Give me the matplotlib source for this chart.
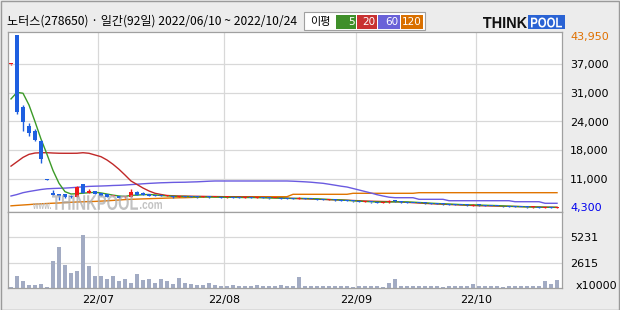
import matplotlib
matplotlib.use('Agg')
import matplotlib.pyplot as plt
from matplotlib.patches import Rectangle, PathPatch
from matplotlib.textpath import TextPath
from matplotlib.font_manager import FontProperties
import matplotlib.transforms as mtrans

plt.rcParams['font.family'] = ['Noto Sans CJK KR', 'DejaVu Sans']

# 일봉 데이터 (92일, 2022/06/10 ~ 2022/10/24)
opens = [37200, 43950, 27500, 23200, 21950, 19650, 10800, 7650, 7500, 7450,
         7120, 6900, 9730, 7800, 8130, 7670, 7440, 7100, 7050, 6850,
         6890, 8040, 7670, 7500, 7300, 7200, 7000, 7100, 6850, 7000,
         6900, 6850, 6800, 6900, 6800, 6850, 6750, 6800, 6750, 6700,
         6700, 6650, 6700, 6600, 6550, 6600, 6500, 6450, 6300, 6650,
         6400, 6300, 6250, 6200, 6200, 6100, 6000, 5900, 5800, 5700,
         5700, 5600, 5550, 5600, 5950, 5800, 5600, 5500, 5450, 5400,
         5350, 5300, 5200, 5150, 5100, 5050, 4950, 4850, 5050, 4900,
         4800, 4750, 4700, 4650, 4600, 4550, 4500, 4450, 4500, 4350,
         4450, 4400]
highs = [37400, 43950, 27900, 23850, 22500, 19900, 10850, 8450, 7600, 7500,
         7200, 9250, 9850, 8600, 8200, 7700, 7500, 7300, 7100, 6950,
         8650, 8130, 7900, 7550, 7380, 7260, 7230, 7150, 7020, 7050,
         6950, 6900, 6980, 6950, 6920, 6900, 6870, 6850, 6800, 6820,
         6750, 6780, 6750, 6650, 6680, 6650, 6550, 6500, 6900, 6700,
         6450, 6350, 6300, 6330, 6250, 6150, 6050, 5950, 5850, 5830,
         5750, 5650, 5720, 6100, 6200, 5850, 5650, 5550, 5500, 5450,
         5400, 5350, 5250, 5200, 5150, 5100, 5000, 5250, 5100, 4950,
         4850, 4800, 4750, 4700, 4650, 4600, 4550, 4580, 4550, 4500,
         4500, 4550]
lows = [37100, 25900, 21950, 20850, 19650, 14700, 10650, 7200, 6150, 6700,
        6700, 6850, 7750, 7750, 7400, 7000, 6850, 7050, 6500, 6520,
        6850, 7250, 7200, 7000, 6980, 6950, 6950, 6700, 6800, 6750,
        6750, 6700, 6750, 6700, 6750, 6650, 6700, 6650, 6600, 6650,
        6550, 6600, 6500, 6450, 6500, 6400, 6350, 6300, 6250, 6350,
        6250, 6150, 6100, 6150, 6000, 5900, 5850, 5750, 5650, 5650,
        5550, 5500, 5500, 5550, 5750, 5550, 5450, 5400, 5350, 5300,
        5250, 5150, 5100, 5050, 5000, 4900, 4850, 4800, 4850, 4750,
        4700, 4650, 4600, 4550, 4500, 4450, 4400, 4400, 4350, 4300,
        4350, 4350]
closes = [37250, 26250, 23950, 21450, 19900, 15450, 10700, 7280, 7120, 6750,
          6750, 9180, 7800, 8260, 7440, 7050, 6890, 7150, 6520, 6900,
          8040, 7280, 7280, 7050, 7050, 7000, 7150, 6750, 6950, 6800,
          6800, 6750, 6900, 6750, 6850, 6700, 6800, 6700, 6650, 6750,
          6600, 6700, 6550, 6500, 6600, 6450, 6400, 6350, 6700, 6400,
          6300, 6200, 6150, 6250, 6050, 5950, 5900, 5800, 5700, 5750,
          5600, 5550, 5650, 5900, 5800, 5600, 5500, 5450, 5400, 5350,
          5300, 5200, 5150, 5100, 5050, 4950, 4900, 5100, 4900, 4800,
          4750, 4700, 4650, 4600, 4550, 4500, 4450, 4500, 4400, 4450,
          4400, 4480]
# 거래량 (x10000)
volumes = [100, 1190, 680, 306, 306, 408, 100, 2825, 4186, 2348,
           1531, 1804, 5514, 2246, 1225, 1225, 919, 1225, 715, 919,
           510, 1429, 817, 919, 510, 919, 715, 408, 1021, 510,
           408, 306, 306, 510, 306, 204, 204, 306, 204, 204,
           204, 306, 204, 204, 204, 306, 204, 204, 1123, 204,
           204, 170, 170, 170, 170, 170, 170, 100, 170, 170,
           170, 170, 100, 510, 885, 170, 170, 170, 170, 170,
           170, 170, 100, 170, 170, 170, 170, 408, 170, 170,
           170, 170, 100, 170, 170, 170, 170, 204, 170, 680,
           408, 817]
# 이동평균
ma5 = [29300, 30800, 30600, 27900, 24100, 20100, 16600, 12900, 9960, 8040,
       7510, 7580, 7700, 7800, 7900, 7750, 7500, 7250, 7050, 6950,
       7200, 7250, 7350, 7400, 7300, 7150, 7100, 7000, 6950, 6950,
       6900, 6850, 6850, 6820, 6800, 6780, 6760, 6750, 6720, 6700,
       6700, 6680, 6650, 6620, 6580, 6550, 6520, 6480, 6500, 6480,
       6450, 6400, 6300, 6250, 6200, 6130, 6050, 5960, 5870, 5800,
       5740, 5680, 5640, 5680, 5720, 5710, 5690, 5640, 5560, 5480,
       5400, 5330, 5270, 5200, 5150, 5080, 5020, 5010, 4980, 4930,
       4890, 4850, 4780, 4720, 4660, 4610, 4560, 4530, 4500, 4470,
       4450, 4440]
ma20 = [13900, 14900, 15900, 16600, 16900, 16970, 16970, 16900, 16850, 16840,
        16840, 16850, 16970, 16840, 16450, 16060, 15300, 14320, 13170, 11860,
        10490, 9690, 8880, 8200, 7670, 7400, 7170, 7100, 7050, 7030,
        7000, 6980, 6960, 6940, 6920, 6900, 6880, 6860, 6840, 6820,
        6790, 6760, 6730, 6700, 6660, 6620, 6560, 6500, 6460, 6420,
        6360, 6320, 6270, 6220, 6170, 6130, 6080, 6020, 5960, 5900,
        5860, 5820, 5790, 5770, 5740, 5680, 5600, 5520, 5440, 5360,
        5290, 5220, 5170, 5110, 5050, 4990, 4930, 4880, 4830, 4800,
        4770, 4740, 4710, 4680, 4650, 4620, 4590, 4560, 4530, 4500,
        4480, 4460]
ma60 = [7050, 7390, 7810, 8080, 8310, 8540, 8700, 8770, 8820, 8860,
        8950, 9040, 9160, 9250, 9300, 9340, 9390, 9460, 9500, 9570,
        9660, 9750, 9850, 9940, 10010, 10080, 10120, 10170, 10190, 10210,
        10260, 10300, 10370, 10440, 10490, 10490, 10490, 10490, 10490, 10490,
        10490, 10490, 10490, 10490, 10490, 10490, 10490, 10440, 10370, 10300,
        10210, 10080, 9960, 9750, 9530, 9300, 9110, 8770, 8430, 8080,
        7740, 7350, 7050, 6780, 6660, 6660, 6660, 6660, 6290, 6290,
        6290, 6290, 6290, 5970, 5970, 5970, 5970, 5970, 5970, 5970,
        5970, 5970, 5970, 5970, 5740, 5740, 5740, 5740, 5740, 5380,
        5380, 5380]
ma120 = [4800, 4900, 4990, 5080, 5190, 5260, 5330, 5400, 5450, 5540,
         5610, 5680, 5720, 5770, 5810, 5880, 5950, 6040, 6130, 6230,
         6290, 6340, 6390, 6430, 6480, 6520, 6570, 6610, 6640, 6660,
         6710, 6750, 6820, 6890, 6890, 6890, 6890, 6890, 6890, 6890,
         6890, 6890, 6890, 6890, 6890, 6890, 6890, 7440, 7440, 7440,
         7440, 7440, 7440, 7440, 7440, 7440, 7440, 7670, 7670, 7670,
         7670, 7670, 7670, 7670, 7670, 7670, 7670, 7670, 7810, 7810,
         7810, 7810, 7810, 7810, 7810, 7810, 7810, 7810, 7810, 7810,
         7810, 7810, 7810, 7810, 7810, 7810, 7810, 7810, 7810, 7810,
         7810, 7810]

price_max, price_min = 43950, 4300
grid_labels = ['11,000', '18,000', '24,000', '31,000', '37,000']
vol_ticks = [2615, 5231]
month_start = [15, 36, 58, 78]
month_labels = ['22/07', '22/08', '22/09', '22/10']
title = '노터스(278650) · 일간(92일) 2022/06/10 ~ 2022/10/24'

W, H = 620, 310
fig = plt.figure(figsize=(W / 100, H / 100), dpi=100)
fig.patch.set_facecolor('#ececec')


def box(x0, y0, x1, y1):
    return [x0 / W, 1 - y1 / H, (x1 - x0) / W, (y1 - y0) / H]


def fit_text(s, x0, x1, ytop, ybot, color, alpha=1.0, z=6):
    # 글자를 픽셀 상자에 맞춰 그림 (로고, 워터마크용)
    tp = TextPath((0, 0), s, size=10,
                  prop=FontProperties(family='Liberation Sans', weight='bold'))
    e = tp.get_extents()
    t = (mtrans.Affine2D().translate(-e.x0, -e.y0)
         .scale((x1 - x0) / e.width, (ybot - ytop) / e.height)
         .translate(x0, H - ybot))
    fig.add_artist(PathPatch(tp, transform=t, facecolor=color, edgecolor='none',
                             alpha=alpha, zorder=z))


ax = fig.add_axes(box(8, 32, 562, 212))
axv = fig.add_axes(box(8, 212, 562, 288), sharex=ax)

n = len(closes)
xs = list(range(n))
red, blue = '#f01818', '#1e5fe0'
grid_c = '#d8d8d8'

# 가격 패널
step = (price_max - price_min) / 6
ax.set_ylim(price_min - 4 * step / 28.83, price_max + 3 * step / 28.83)
ax.set_xlim(-0.5, 91.83)
for k in range(1, 6):
    ax.axhline(price_min + k * step, color=grid_c, lw=0.9, zorder=0)
for m in month_start:
    ax.axvline(m - 0.5, color=grid_c, lw=0.9, zorder=0)
    axv.axvline(m - 0.5, color=grid_c, lw=0.9, zorder=0)

ax.plot(xs, ma120, color='#e07400', lw=1, zorder=2)
ax.plot(xs, ma60, color='#6a5ae0', lw=1, zorder=2)
ax.plot(xs, ma20, color='#c02828', lw=1, zorder=2)
ax.plot(xs, ma5, color='#3c9a28', lw=1, zorder=2)

for i in range(n):
    col = red if closes[i] >= opens[i] else blue
    ax.vlines(i, lows[i], highs[i], color=col, lw=1.0, zorder=3)
    lo = min(opens[i], closes[i])
    hgt = max(abs(closes[i] - opens[i]), 220)
    ax.bar(i, hgt, bottom=lo, width=0.78, color=col, lw=0, zorder=4)

# 워터마크 www.THINKPOOL.com
fit_text('www.', 33, 51, 203, 209, '#b4b4b4', 0.8)
fit_text('THINKPOOL', 52, 138, 195, 210, '#adadad', 0.75)
fit_text('.com', 140, 162, 202, 209, '#b4b4b4', 0.8)

tr = mtrans.blended_transform_factory(ax.transAxes, ax.transData)
lab_x = (570 - 8) / 554
ax.text(lab_x, price_max - 500, '43,950', transform=tr, color='#e07000',
        fontsize=8, va='center', ha='left', family='DejaVu Sans')
for k, lab in enumerate(grid_labels, start=1):
    ax.text(lab_x, price_min + k * step - 250, lab, transform=tr, color='black',
            fontsize=8, va='center', ha='left', family='DejaVu Sans')
ax.text(lab_x, price_min, '4,300', transform=tr, color='#0000ee',
        fontsize=8, va='center', ha='left', family='DejaVu Sans')

# 거래량 패널
axv.set_ylim(0, 3 * vol_ticks[0])
for v in vol_ticks:
    axv.axhline(v, color=grid_c, lw=0.9, zorder=0)
axv.bar(xs, volumes, width=0.76, color='#a2abc3', lw=0, zorder=2)
trv = mtrans.blended_transform_factory(axv.transAxes, axv.transData)
for v in vol_ticks:
    axv.text(lab_x, v - 100, str(v), transform=trv, fontsize=8,
             va='center', ha='left', family='DejaVu Sans')
axv.text((576 - 8) / 554, 0.03, 'x10000', transform=axv.transAxes, fontsize=8,
         va='center', ha='left', family='DejaVu Sans')

for a in (ax, axv):
    a.set_xticks([])
    a.set_yticks([])
    for s in a.spines.values():
        s.set_color('#a0a0a0')
        s.set_linewidth(0.9)
    a.set_facecolor('white')

trx = mtrans.blended_transform_factory(axv.transData, axv.transAxes)
for m, lab in zip(month_start, month_labels):
    axv.text(m - 0.5, -0.16, lab, transform=trx,
             fontsize=8, ha='center', va='center', family='DejaVu Sans')

# 상단 제목과 범례
fig.text(7 / W, 1 - 21.5 / H, title, fontsize=8.7, va='center', ha='left')
fig.add_artist(Rectangle((304 / W, 1 - 30 / H), 121 / W, 18 / H, transform=fig.transFigure,
                         facecolor='white', edgecolor='#a0a0a0', lw=0.8))
fig.text(310 / W, 1 - 21.5 / H, '이평', fontsize=8, va='center', ha='left')
leg = [('5', '#3f8f2a', 336, 356), ('20', '#c83232', 357, 377),
       ('60', '#6a62d8', 378, 400), ('120', '#d97000', 401, 423)]
for lab, col, x0, x1 in leg:
    fig.add_artist(Rectangle((x0 / W, 1 - 28.5 / H), (x1 - x0) / W, 13.5 / H,
                             transform=fig.transFigure, facecolor=col, lw=0))
    fig.text((x1 - 1.5) / W, 1 - 21.8 / H, lab, fontsize=7.5, va='center', ha='right',
             color='white', family='DejaVu Sans')

# 로고
fit_text('THINK', 483, 527, 17, 28, '#111111', 1.0)
fig.add_artist(Rectangle((528 / W, 1 - 29 / H), 37 / W, 14 / H, transform=fig.transFigure,
                         facecolor='#2a63d4', lw=0))
fit_text('POOL', 531, 562, 17.5, 27.5, 'white', 1.0, z=7)

fig.add_artist(Rectangle((0.5 / W, 0.5 / H), (W - 1.5) / W, (H - 1.5) / H,
                         transform=fig.transFigure, facecolor='none',
                         edgecolor='#9a9a9a', lw=1))

fig.savefig('out.png', dpi=100, facecolor=fig.get_facecolor())
